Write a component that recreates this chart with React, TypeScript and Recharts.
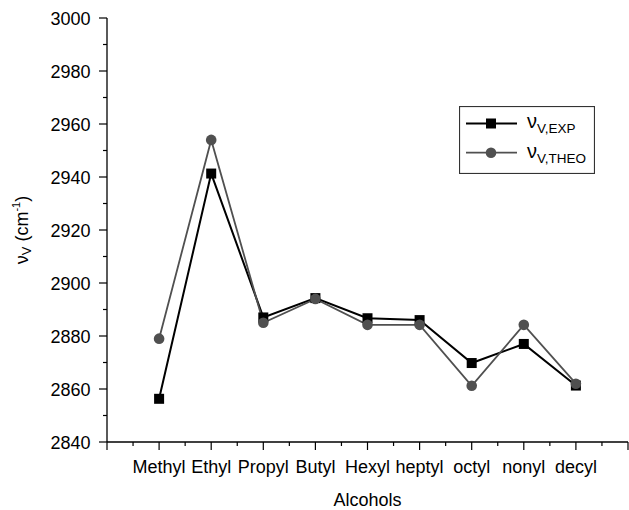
import React from 'react';
import { LineChart, Line, XAxis, YAxis, Legend } from 'recharts';

// Alcohol series and measured / computed vibration frequencies (cm^-1)
const categories = ['Methyl', 'Ethyl', 'Propyl', 'Butyl', 'Hexyl', 'heptyl', 'octyl', 'nonyl', 'decyl'];
const expValues = [2856.3, 2941.3, 2887, 2894.3, 2886.7, 2886, 2869.8, 2877, 2861.3];
const theoValues = [2879, 2954, 2885, 2894, 2884.2, 2884.2, 2861.2, 2884.2, 2862];

const yTicks = [2840, 2850, 2860, 2870, 2880, 2890, 2900, 2910, 2920, 2930, 2940, 2950, 2960, 2970, 2980, 2990, 3000];
const xTicks = [0, 0.5, 1, 1.5, 2, 2.5, 3, 3.5, 4, 4.5, 5, 5.5, 6, 6.5, 7, 7.5, 8, 8.5, 9, 9.5, 10];

const data = categories.map((name, i) => ({ x: i + 1, name, exp: expValues[i], theo: theoValues[i] }));

const FONT = '"Liberation Sans", Arial, Helvetica, sans-serif';
const GREY = '#505050';

const YTick = (props: any) => {
  const { x, y, payload } = props;
  const v = payload.value as number;
  const major = v % 20 === 0;
  return (
    <g>
      <line x1={x} x2={x - (major ? 8 : 4)} y1={y} y2={y} stroke="#000" strokeWidth={1.2} />
      {major && (
        <text x={x - 16.5} y={y + 6.8} textAnchor="end" fontSize={18} fontFamily={FONT} fill="#000">
          {v}
        </text>
      )}
    </g>
  );
};

const XTick = (props: any) => {
  const { x, y, payload } = props;
  const v = payload.value as number;
  const major = Number.isInteger(v);
  return (
    <g>
      <line x1={x} x2={x} y1={y} y2={y + (major ? 8 : 4)} stroke="#000" strokeWidth={1.2} />
      {major && v >= 1 && v <= categories.length && (
        <text x={x} y={y + 31} textAnchor="middle" fontSize={18} fontFamily={FONT} fill="#000">
          {categories[v - 1]}
        </text>
      )}
    </g>
  );
};

const SquareDot = (props: any) => {
  const { cx, cy, index } = props;
  if (cx == null || cy == null) return <g key={`sq-${index}`} />;
  return <rect key={`sq-${index}`} x={cx - 5} y={cy - 5} width={10} height={10} fill="#000" />;
};

const CircleDot = (props: any) => {
  const { cx, cy, index } = props;
  if (cx == null || cy == null) return <g key={`ci-${index}`} />;
  return <circle key={`ci-${index}`} cx={cx} cy={cy} r={5.3} fill={GREY} />;
};

const LegendBox = () => (
  <svg width={136} height={68} style={{ display: 'block' }}>
    <rect x={0.5} y={0.5} width={135} height={67} fill="#fff" stroke="#333" strokeWidth={1.2} />
    <line x1={7} x2={58} y1={17.5} y2={17.5} stroke="#000" strokeWidth={2} />
    <rect x={27} y={12.5} width={10} height={10} fill="#000" />
    <text x={68} y={22} fontSize={20} fontFamily={FONT} fill="#000">
      ν<tspan fontSize={13.5} dy={5}>V,EXP</tspan>
    </text>
    <line x1={7} x2={58} y1={46.7} y2={46.7} stroke={GREY} strokeWidth={1.8} />
    <circle cx={32} cy={46.7} r={5.3} fill={GREY} />
    <text x={68} y={51.5} fontSize={20} fontFamily={FONT} fill="#000">
      ν<tspan fontSize={13.5} dy={5}>V,THEO</tspan>
    </text>
  </svg>
);

const YLabel = (props: any) => {
  const vb = props.viewBox || { y: 18, height: 424 };
  const cy = vb.y + vb.height / 2;
  return (
    <text transform="rotate(-90)" x={-cy} y={28} textAnchor="middle" fontSize={18} fontFamily={FONT} fill="#000">
      ν<tspan fontSize={13} dy={3}>V</tspan>
      <tspan fontSize={18} dy={-3}> (cm</tspan>
      <tspan fontSize={11} dy={-8}>-1</tspan>
      <tspan fontSize={18} dy={8}>)</tspan>
    </text>
  );
};

const XLabel = (props: any) => {
  const vb = props.viewBox || { x: 107, y: 442, width: 521 };
  return (
    <text x={vb.x + vb.width / 2} y={vb.y + 64} textAnchor="middle" fontSize={18} fontFamily={FONT} fill="#000">
      Alcohols
    </text>
  );
};

export default function App() {
  return (
    <div style={{ position: 'absolute', left: 0, top: 0, width: 629, height: 510, background: '#fff' }}>
      <LineChart width={629} height={510} data={data} margin={{ top: 18, right: 1, bottom: 0, left: 0 }}>
        <XAxis
          type="number"
          dataKey="x"
          domain={[0, 10]}
          ticks={xTicks}
          interval={0}
          tickSize={0}
          tickMargin={0}
          tickLine={false}
          tick={<XTick />}
          height={68}
          axisLine={{ stroke: '#000', strokeWidth: 1.3 }}
          label={XLabel}
        />
        <YAxis
          type="number"
          domain={[2840, 3000]}
          ticks={yTicks}
          interval={0}
          tickSize={0}
          tickMargin={0}
          tickLine={false}
          tick={<YTick />}
          width={107}
          axisLine={{ stroke: '#000', strokeWidth: 1.3 }}
          label={YLabel}
        />
        <Legend
          layout="horizontal"
          verticalAlign="middle"
          align="center"
          content={() => <LegendBox />}
          wrapperStyle={{ position: 'absolute', left: 459, top: 106, width: 136, height: 68 }}
        />
        <Line
          dataKey="exp"
          stroke="#000"
          strokeWidth={2}
          dot={SquareDot}
          activeDot={false}
          isAnimationActive={false}
        />
        <Line
          dataKey="theo"
          stroke={GREY}
          strokeWidth={1.8}
          dot={CircleDot}
          activeDot={false}
          isAnimationActive={false}
        />
      </LineChart>
    </div>
  );
}
